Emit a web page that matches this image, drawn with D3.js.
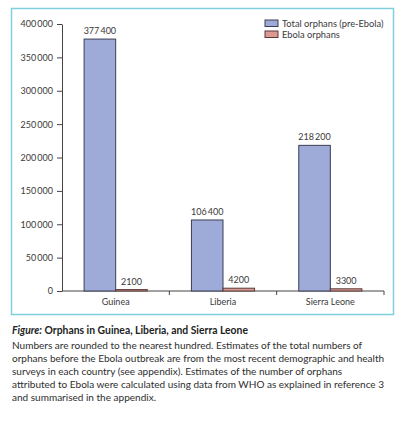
<!DOCTYPE html>
<html>
<head>
<meta charset="utf-8">
<script src="https://cdn.jsdelivr.net/npm/d3@7"></script>
<style>
  body { margin: 0; background: #fff; }
  text { font-family: Lato, "Open Sans", sans-serif; fill: #3a3a3a; }
</style>
</head>
<body>
<div id="chart"></div>
<script>
/* DATA */
const countries = ["Guinea", "Liberia", "Sierra Leone"];
const seriesNames = ["Total orphans (pre-Ebola)", "Ebola orphans"];
const totalOrphans = [377400, 106400, 218200];
const ebolaOrphans = [2100, 4200, 3300];
const yTicks = [0, 50000, 100000, 150000, 200000, 250000, 300000, 350000, 400000];
const captionTitle = ["Figure:", " Orphans in Guinea, Liberia, and Sierra Leone"];
const captionLines = [
  "Numbers are rounded to the nearest hundred. Estimates of the total numbers of",
  "orphans before the Ebola outbreak are from the most recent demographic and health",
  "surveys in each country (see appendix). Estimates of the number of orphans",
  "attributed to Ebola were calculated using data from WHO as explained in reference 3",
  "and summarised in the appendix."
];

/* CONSTANTS */
const width = 403, height = 422;
const margin = { top: 24, bottom: 131, left: 62, right: 19 };
const colors = ["#9eabd8", "#dc9a92"];
const strokes = ["#3b3f55", "#5a3a38"];

const rows = countries.map((c, i) => ({ country: c, values: [totalOrphans[i], ebolaOrphans[i]] }));

// thin-space thousands like the journal style (only for 5+ digits)
const fmt = v => v < 10000 ? String(v) : d3.format(",")(v).replace(/,/g, "\u2009");

const svg = d3.select("#chart").append("svg")
  .attr("width", width)
  .attr("height", height);

// frame round the chart
svg.append("rect")
  .attr("x", 11.5).attr("y", 8.5)
  .attr("width", 382).attr("height", 306)
  .attr("fill", "none")
  .attr("stroke", "#7fd0dc")
  .attr("stroke-width", 1.5);

// SCALES
const x0 = d3.scaleBand()
  .domain(countries)
  .range([margin.left, width - margin.right]);

const x1 = d3.scaleBand()
  .domain(d3.range(seriesNames.length))
  .range([0, x0.bandwidth()])
  .paddingInner(0)
  .paddingOuter(0.7);

const y = d3.scaleLinear()
  .domain([0, 400000])
  .range([height - margin.bottom, margin.top]);

// AXES
const yAxis = d3.axisLeft(y).tickValues(yTicks).tickFormat(fmt).tickSize(5).tickSizeOuter(0);
const yAxisGroup = svg.append("g")
  .attr("transform", `translate(${margin.left}, 0)`)
  .call(yAxis);
yAxisGroup.selectAll("text").attr("font-size", 9).attr("dx", "-1");
yAxisGroup.selectAll("line, path").attr("stroke", "#444");

const xAxisGroup = svg.append("g")
  .attr("transform", `translate(0, ${y(0)})`);
xAxisGroup.append("line")
  .attr("x1", margin.left).attr("x2", width - margin.right)
  .attr("stroke", "#444");
xAxisGroup.selectAll(".tick")
  .data(countries.map(c => x0(c)).concat([width - margin.right]).slice(1))
  .join("line")
  .attr("x1", d => d).attr("x2", d => d)
  .attr("y1", 0).attr("y2", 4)
  .attr("stroke", "#444");
xAxisGroup.selectAll(".lbl")
  .data(countries)
  .join("text")
  .attr("x", d => x0(d) + x0.bandwidth() / 2)
  .attr("y", 14)
  .attr("text-anchor", "middle")
  .attr("font-size", 9)
  .text(d => d);

// BARS
const groups = svg.selectAll(".grp")
  .data(rows)
  .join("g")
  .attr("transform", d => `translate(${x0(d.country)}, 0)`);

groups.selectAll("rect")
  .data(d => d.values.map((v, i) => ({ v, i })))
  .join("rect")
  .attr("x", d => x1(d.i))
  .attr("y", d => y(d.v))
  .attr("width", x1.bandwidth())
  .attr("height", d => y(0) - y(d.v))
  .attr("fill", d => colors[d.i])
  .attr("stroke", d => strokes[d.i])
  .attr("stroke-width", 1);

groups.selectAll(".val")
  .data(d => d.values.map((v, i) => ({ v, i })))
  .join("text")
  .attr("x", d => x1(d.i) + x1.bandwidth() / 2)
  .attr("y", d => y(d.v) - 5)
  .attr("text-anchor", "middle")
  .attr("font-size", 9)
  .text(d => fmt(d.v));

// LEGEND
const legend = svg.append("g").attr("transform", "translate(265, 20)");
legend.selectAll("rect")
  .data(seriesNames)
  .join("rect")
  .attr("x", 0).attr("y", (d, i) => i * 11)
  .attr("width", 13).attr("height", 6.5)
  .attr("fill", (d, i) => colors[i])
  .attr("stroke", (d, i) => strokes[i]);
legend.selectAll("text")
  .data(seriesNames)
  .join("text")
  .attr("x", 17).attr("y", (d, i) => i * 11 + 6.5)
  .attr("font-size", 9.3)
  .text(d => d);

// CAPTION
const title = svg.append("text")
  .attr("x", 12).attr("y", 334)
  .attr("font-size", 10)
  .attr("font-weight", "bold")
  .style("fill", "#222");
title.append("tspan").attr("font-style", "italic").text(captionTitle[0]);
title.append("tspan").text(captionTitle[1]);
// title in the reference ends near x=248
const tw = title.node().getComputedTextLength();
title.attr("font-size", Math.min(11, 10 * 236 / tw));

const cap = svg.selectAll(".cap")
  .data(captionLines)
  .join("text")
  .attr("x", 12)
  .attr("y", (d, i) => 349 + i * 13)
  .attr("font-size", 10)
  .style("fill", "#2e2e2e")
  .text(d => d);
// longest caption line in the reference runs to about x=386
const maxW = d3.max(cap.nodes(), n => n.getComputedTextLength());
cap.attr("font-size", 10 * 373 / maxW);
</script>
</body>
</html>
